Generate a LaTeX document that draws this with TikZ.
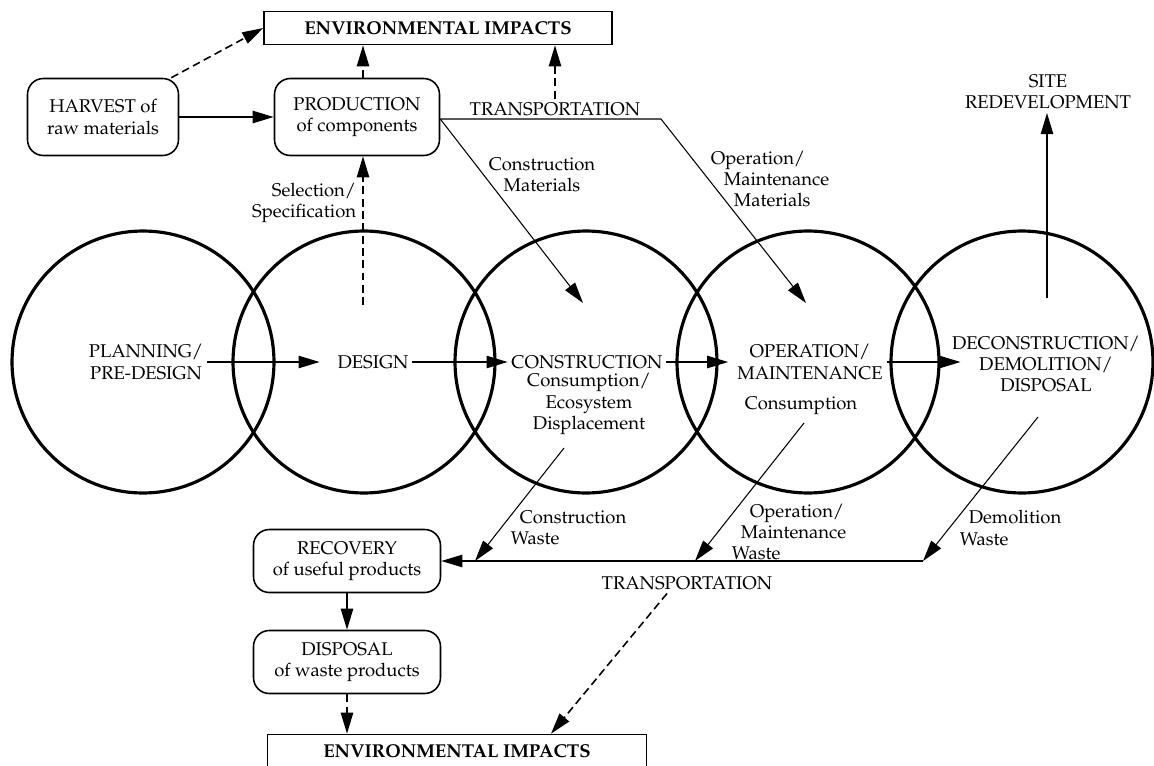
\documentclass[tikz,border=0pt]{standalone}
\usepackage[T1]{fontenc}
\usepackage{mathpazo}
\usetikzlibrary{arrows.meta}
\begin{document}
\begin{tikzpicture}[x=0.02cm,y=-0.02cm,
    every node/.style={align=center,inner sep=2pt,font=\fontsize{10.5}{12}\selectfont},
    stage/.style={draw,circle,line width=1.8pt,minimum size=5.24cm,inner sep=0pt},
    phase/.style={draw,rounded corners=9pt,line width=0.9pt,minimum width=3.02cm,minimum height=1.54cm},
    impact/.style={draw,line width=0.9pt,minimum height=0.66cm,font=\fontsize{10.6}{12}\selectfont\bfseries},
    flow/.style={-{Triangle[length=12pt,width=7pt]},line width=0.9pt},
    haul/.style={flow,line width=0.6pt},
    effect/.style={flow,dash pattern=on 4.5pt off 2.5pt}]
  \useasboundingbox (0,0) rectangle (1154,765);
  \node (S1) at (143,362) [stage] {};
  \node (S2) at (364,362) [stage] {};
  \node (S3) at (586,362) [stage] {};
  \node (S4) at (808,362) [stage] {};
  \node (S5) at (1022,362) [stage] {};
  \node (Plan) at (146,362) {PLANNING/\\PRE-DESIGN};
  \node (Design) at (373,362) {DESIGN};
  \node (Constr) at (587,362) {CONSTRUCTION};
  \node (Oper) at (810,362) {OPERATION/\\MAINTENANCE};
  \node (Decon) at (1046,364) {DECONSTRUCTION/\\DEMOLITION/\\DISPOSAL};
  \node (ConsA) at (589,404) {Consumption/\\Ecosystem\\Displacement};
  \node (ConsB) at (801,406) {Consumption};
  \draw [flow,shorten >=8pt] (Plan.east) -- (Design.west);
  \draw [flow] (Design.east) -- (Constr.west);
  \draw [flow,shorten >=3pt] (Constr.east) -- (Oper.west);
  \draw [flow,shorten >=-7pt] (Oper.east) -- (Oper.east -| Decon.west);
  \node (Env) at (438,28) [impact,minimum width=6.96cm] {ENVIRONMENTAL IMPACTS};
  \node (Harvest) at (103,117) [phase] {HARVEST of\\raw materials};
  \node (Prod) at (357,117) [phase,minimum width=3.3cm] {PRODUCTION\\of components};
  \node (TransUp) at (555,109) {TRANSPORTATION};
  \node (CMat) at (542,175) {Construction\\Materials};
  \node (OMat) at (707,179) [anchor=west,align=left] {Operation/\\\hspace{0.26cm}Maintenance\\\hspace{0.46cm}Materials};
  \node (Site) at (1048,92) {SITE\\REDEVELOPMENT};
  \node (Sel) at (360,203) [anchor=east,align=right] {Selection/\\Specification};
  \coordinate (SelFoot) at (363,305);
  \coordinate (Bend) at (661,119);
  \coordinate (CMatTip) at (583,303);
  \coordinate (OMatTip) at (806,303);
  \coordinate (SiteFoot) at (1047,298);
  \draw [flow] (Harvest) -- (Prod);
  \draw [effect] ([xshift=-0.16cm]Harvest.north east) -- (Env.west);
  \draw [effect] (SelFoot |- Prod.north) -- (SelFoot |- Env.south);
  \draw [effect] (SelFoot) -- (SelFoot |- Prod.south);
  \draw [effect] (TransUp.north) -- (TransUp.north |- Env.south);
  \draw [haul] (Prod.east |- Bend) -- (CMatTip);
  \draw [haul] (Prod.east |- Bend) -- (Bend) -- (OMatTip);
  \draw [flow] (SiteFoot) -- (SiteFoot |- Site.south);
  \node (Recov) at (347,561) [phase,minimum width=3.74cm,minimum height=1.26cm] {RECOVERY\\of useful products};
  \node (Disp) at (347,662) [phase,minimum width=3.74cm,minimum height=1.26cm] {DISPOSAL\\of waste products};
  \node (EnvLow) at (457,751) [impact,minimum width=7.58cm] {ENVIRONMENTAL IMPACTS};
  \node (TransLow) at (687,583) {TRANSPORTATION};
  \node (CWaste) at (507,528) [anchor=west,align=left] {\hspace{0.18cm}Construction\\Waste};
  \node (OWaste) at (728,532) [anchor=west,align=left] {\hspace{0.36cm}Operation/\\\hspace{0.18cm}Maintenance\\Waste};
  \node (DWaste) at (956,528) [anchor=west,align=left] {\hspace{0.18cm}Demolition\\Waste};
  \coordinate (CWTop) at (564,448);
  \coordinate (CWTip) at (475,561);
  \coordinate (OWTop) at (804,423);
  \coordinate (OWTip) at (695,561);
  \coordinate (DWTop) at (1038,417);
  \coordinate (DWTip) at (923,561);
  \draw [haul] (CWTop) -- (CWTip);
  \draw [haul] (OWTop) -- (OWTip);
  \draw [haul] (DWTop) -- (DWTip);
  \draw [flow] (DWTip) -- (Recov.east);
  \draw [flow] (Recov) -- (Disp);
  \draw [effect] (Disp) -- (Disp |- EnvLow.north);
  \draw [effect] ([xshift=-0.4cm]TransLow.south) -- ([xshift=1.88cm]EnvLow.north);
\end{tikzpicture}
\end{document}
